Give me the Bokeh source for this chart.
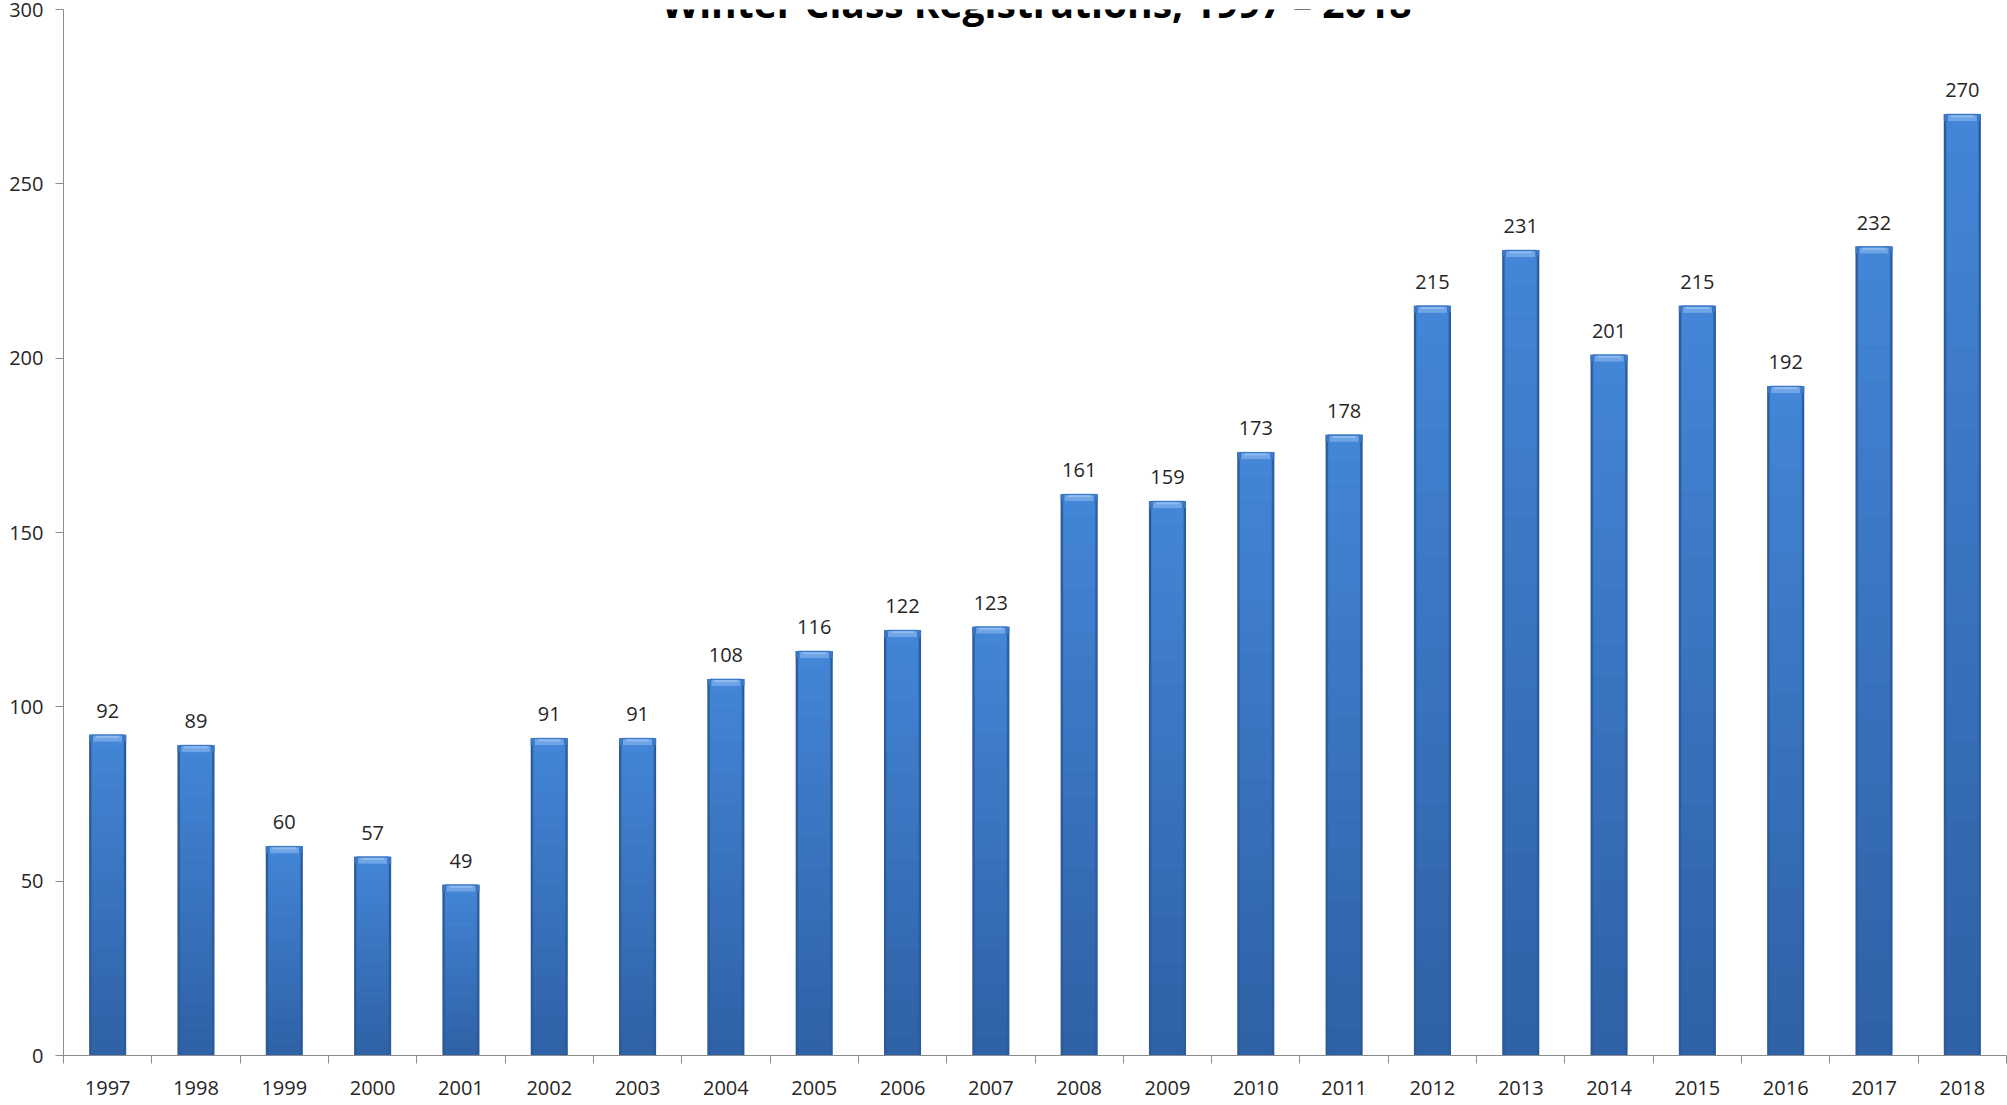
import numpy as np
from bokeh.plotting import figure
from bokeh.models import ColumnDataSource, Range1d, FixedTicker, Label
from bokeh.core.properties import value
from bokeh.embed import file_html
from bokeh.resources import INLINE

# ---- data ----
years = [1997, 1998, 1999, 2000, 2001, 2002, 2003, 2004, 2005, 2006, 2007,
         2008, 2009, 2010, 2011, 2012, 2013, 2014, 2015, 2016, 2017, 2018]
registrations = [92, 89, 60, 57, 49, 91, 91, 108, 116, 122, 123,
                 161, 159, 173, 178, 215, 231, 201, 215, 192, 232, 270]
y_ticks = [0, 50, 100, 150, 200, 250, 300]
title_text = "Winter Class Registrations, 1997 \u2013 2018"

FONT = "Open Sans"
TXT = "#262626"
AXIS = "#8c8c8c"

W, H = 2007, 1105
p = figure(width=W, height=H, output_backend="svg", toolbar_location=None,
           x_range=Range1d(years[0] - 0.5, years[-1] + 0.5),
           y_range=Range1d(0, 300),
           min_border_left=63, min_border_right=1, min_border_top=9, min_border_bottom=50,
           frame_width=1943, frame_height=1046)
p.outline_line_color = None
p.background_fill_color = "white"
p.xgrid.visible = False
p.ygrid.visible = False

# ---- bars: darker edge + vertical gradient body + light bevel on top ----
yrs = np.array(years, dtype=float)
vals = np.array(registrations, dtype=float)
BW = 0.42
p.vbar(x=yrs, bottom=0, top=vals, width=BW, fill_color="#2c5b9a", line_color=None)

N = 24
top_c = np.array([0x43, 0x86, 0xd7])
bot_c = np.array([0x2f, 0x61, 0xa5])
xs, bots, tops, cols = [], [], [], []
for x, v in zip(yrs, vals):
    for k in range(N):
        t = (k + 0.5) / N
        c = bot_c + (top_c - bot_c) * t
        xs.append(x)
        bots.append(v * k / N)
        tops.append(v * (k + 1) / N)
        cols.append("#%02x%02x%02x" % tuple(int(round(q)) for q in c))
p.vbar(x=xs, bottom=bots, top=tops, width=BW - 0.06, fill_color=cols,
       line_color=cols, line_width=0.6)

# bevel at the top of each bar
bev = 300 * 7 / 1046.0
p.vbar(x=yrs, bottom=vals - bev, top=vals, width=BW, fill_color="#3a76c4", line_color=None)
p.vbar(x=yrs, bottom=vals - bev, top=vals - bev * 0.15, width=BW - 0.09, fill_color="#6fa5e6", line_color=None)
p.vbar(x=yrs, bottom=vals - bev * 0.45, top=vals - bev * 0.15, width=BW - 0.16, fill_color="#8dbbef", line_color=None)

# ---- value labels ----
src = ColumnDataSource(dict(x=years, y=registrations, t=[str(v) for v in registrations]))
p.text(x="x", y="y", text="t", source=src, text_align="center", text_baseline="alphabetic",
       y_offset=-24, text_font=value(FONT), text_font_size="20px", text_color=TXT)

# ---- axes ----
xa = p.xaxis[0]
xa.ticker = FixedTicker(ticks=years, minor_ticks=[y - 0.5 for y in years] + [years[-1] + 0.5])
xa.major_label_overrides = {y: str(y) for y in years}
xa.major_tick_line_color = None
xa.minor_tick_line_color = AXIS
xa.minor_tick_in = 0
xa.minor_tick_out = 8
xa.axis_line_color = AXIS
xa.major_label_standoff = 17
xa.major_label_text_font = FONT
xa.major_label_text_font_size = "20px"
xa.major_label_text_color = TXT

ya = p.yaxis[0]
ya.ticker = FixedTicker(ticks=y_ticks, minor_ticks=[])
ya.major_tick_line_color = AXIS
ya.major_tick_in = 0
ya.major_tick_out = 8
ya.minor_tick_line_color = None
ya.axis_line_color = AXIS
ya.major_label_standoff = 12
ya.major_label_text_font = FONT
ya.major_label_text_font_size = "20px"
ya.major_label_text_color = TXT

# ---- title (cropped at the top like the original) ----
p.add_layout(Label(x=973, y=1053, x_units="screen", y_units="screen", text=title_text,
                   text_align="center", text_baseline="alphabetic",
                   text_font=FONT, text_font_style="bold", text_font_size="39px",
                   text_color="black"))

open("out.html", "w").write(file_html(p, INLINE))
